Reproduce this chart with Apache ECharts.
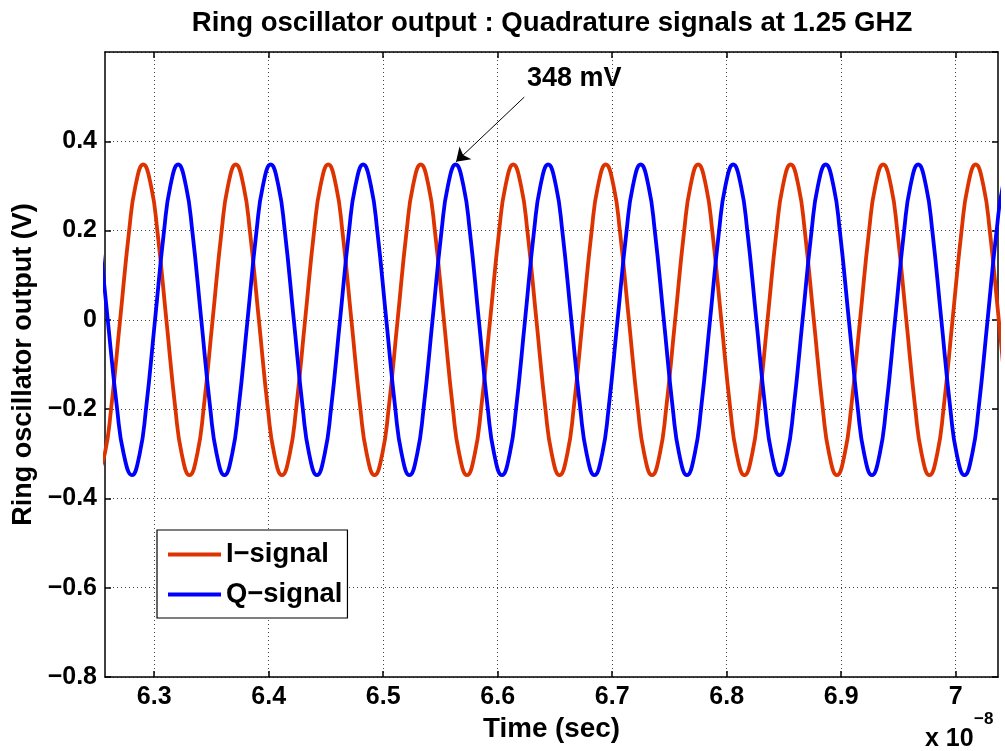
<!DOCTYPE html>
<html>
<head>
<meta charset="utf-8">
<script src="https://cdn.jsdelivr.net/npm/echarts@6/dist/echarts.min.js"></script>
<style>
  html, body { margin: 0; padding: 0; background: #fff; }
  #chart { width: 1005px; height: 751px; }
</style>
</head>
<body>
<div id="chart"></div>
<script>
// ---- data (time in units of 1e-8 s, voltage in V) ----
const xTickValues = [6.3, 6.4, 6.5, 6.6, 6.7, 6.8, 6.9, 7.0];

// I-signal: peaks, troughs and crossings of the 0.3 / 0.2 / 0 / -0.2 / -0.3 levels
const iSignal = [
  [6.2500,-0.348],[6.2568,-0.3],[6.2623,-0.2],[6.2702,0],[6.2781,0.2],[6.2836,0.3],
  [6.2904,0.348],[6.2972,0.3],[6.3027,0.2],[6.3106,0],[6.3185,-0.2],[6.3240,-0.3],[6.3308,-0.348],[6.3376,-0.3],[6.3431,-0.2],[6.3510,0],[6.3589,0.2],[6.3644,0.3],
  [6.3712,0.348],[6.3780,0.3],[6.3835,0.2],[6.3914,0],[6.3993,-0.2],[6.4048,-0.3],[6.4116,-0.348],[6.4184,-0.3],[6.4239,-0.2],[6.4318,0],[6.4397,0.2],[6.4452,0.3],
  [6.4520,0.348],[6.4588,0.3],[6.4643,0.2],[6.4722,0],[6.4801,-0.2],[6.4856,-0.3],[6.4924,-0.348],[6.4992,-0.3],[6.5047,-0.2],[6.5126,0],[6.5205,0.2],[6.5260,0.3],
  [6.5328,0.348],[6.5396,0.3],[6.5451,0.2],[6.5530,0],[6.5609,-0.2],[6.5664,-0.3],[6.5732,-0.348],[6.5800,-0.3],[6.5855,-0.2],[6.5934,0],[6.6013,0.2],[6.6068,0.3],
  [6.6136,0.348],[6.6204,0.3],[6.6259,0.2],[6.6338,0],[6.6417,-0.2],[6.6472,-0.3],[6.6540,-0.348],[6.6608,-0.3],[6.6663,-0.2],[6.6742,0],[6.6821,0.2],[6.6876,0.3],
  [6.6944,0.348],[6.7012,0.3],[6.7067,0.2],[6.7146,0],[6.7225,-0.2],[6.7280,-0.3],[6.7348,-0.348],[6.7416,-0.3],[6.7471,-0.2],[6.7550,0],[6.7629,0.2],[6.7684,0.3],
  [6.7751,0.348],[6.7819,0.3],[6.7874,0.2],[6.7953,0],[6.8032,-0.2],[6.8087,-0.3],[6.8155,-0.348],[6.8223,-0.3],[6.8278,-0.2],[6.8357,0],[6.8436,0.2],[6.8491,0.3],
  [6.8559,0.348],[6.8627,0.3],[6.8682,0.2],[6.8761,0],[6.8840,-0.2],[6.8895,-0.3],[6.8963,-0.348],[6.9031,-0.3],[6.9086,-0.2],[6.9165,0],[6.9244,0.2],[6.9299,0.3],
  [6.9367,0.348],[6.9435,0.3],[6.9490,0.2],[6.9569,0],[6.9648,-0.2],[6.9703,-0.3],[6.9771,-0.348],[6.9839,-0.3],[6.9894,-0.2],[6.9973,0],[7.0052,0.2],[7.0107,0.3],
  [7.0175,0.348],[7.0243,0.3],[7.0298,0.2],[7.0377,0],[7.0456,-0.2],[7.0511,-0.3],[7.0579,-0.348]
];

// Q-signal
const qSignal = [
  [6.2401,0.348],[6.2469,0.3],[6.2515,0.2],[6.2594,0],[6.2676,-0.2],[6.2733,-0.3],[6.2805,-0.348],[6.2873,-0.3],[6.2928,-0.2],[6.3007,0],[6.3086,0.2],[6.3141,0.3],
  [6.3209,0.348],[6.3277,0.3],[6.3332,0.2],[6.3411,0],[6.3490,-0.2],[6.3545,-0.3],[6.3613,-0.348],[6.3681,-0.3],[6.3736,-0.2],[6.3815,0],[6.3894,0.2],[6.3949,0.3],
  [6.4017,0.348],[6.4085,0.3],[6.4140,0.2],[6.4219,0],[6.4298,-0.2],[6.4353,-0.3],[6.4421,-0.348],[6.4489,-0.3],[6.4544,-0.2],[6.4623,0],[6.4702,0.2],[6.4757,0.3],
  [6.4825,0.348],[6.4893,0.3],[6.4948,0.2],[6.5027,0],[6.5106,-0.2],[6.5161,-0.3],[6.5229,-0.348],[6.5297,-0.3],[6.5352,-0.2],[6.5431,0],[6.5510,0.2],[6.5565,0.3],
  [6.5633,0.348],[6.5701,0.3],[6.5756,0.2],[6.5835,0],[6.5914,-0.2],[6.5969,-0.3],[6.6037,-0.348],[6.6105,-0.3],[6.6160,-0.2],[6.6239,0],[6.6318,0.2],[6.6373,0.3],
  [6.6441,0.348],[6.6509,0.3],[6.6564,0.2],[6.6643,0],[6.6722,-0.2],[6.6777,-0.3],[6.6845,-0.348],[6.6913,-0.3],[6.6968,-0.2],[6.7047,0],[6.7126,0.2],[6.7181,0.3],
  [6.7249,0.348],[6.7317,0.3],[6.7372,0.2],[6.7451,0],[6.7530,-0.2],[6.7585,-0.3],[6.7653,-0.348],[6.7721,-0.3],[6.7776,-0.2],[6.7855,0],[6.7934,0.2],[6.7989,0.3],
  [6.8057,0.348],[6.8125,0.3],[6.8180,0.2],[6.8259,0],[6.8338,-0.2],[6.8393,-0.3],[6.8461,-0.348],[6.8529,-0.3],[6.8584,-0.2],[6.8663,0],[6.8742,0.2],[6.8797,0.3],
  [6.8865,0.348],[6.8933,0.3],[6.8988,0.2],[6.9067,0],[6.9146,-0.2],[6.9201,-0.3],[6.9269,-0.348],[6.9337,-0.3],[6.9392,-0.2],[6.9471,0],[6.9550,0.2],[6.9605,0.3],
  [6.9673,0.348],[6.9741,0.3],[6.9796,0.2],[6.9875,0],[6.9954,-0.2],[7.0009,-0.3],[7.0077,-0.348],[7.0145,-0.3],[7.0200,-0.2],[7.0279,0],[7.0358,0.2],[7.0413,0.3],
  [7.0481,0.348],[7.0549,0.3]
];

// annotation: peak marker of the Q-signal
const annotationText = '348 mV';
const arrowFrom = [6.6232, 0.499];
const arrowTo = [6.5636, 0.354];
const annotationAt = [6.6668, 0.541];

// ---- chart ----
const FONT = "'Liberation Sans', Arial, Helvetica, sans-serif";
const X_MIN = 6.257, X_MAX = 7.037, Y_MIN = -0.8, Y_MAX = 0.6;
const RED = '#DD3300', BLUE = '#0000FF';
const fmtX = v => String(parseFloat(v.toFixed(2)));
const fmtY = v => {
  const r = Math.round(v * 10) / 10;
  if (r === 0) return '0';
  return (r < 0 ? '\u2212' : '') + Math.abs(r).toFixed(1);
};
const axisLineStyle = { color: '#000', width: 1.5 };
const gridLineStyle = { color: '#444', width: 1, type: [1, 3] };
const labelStyle = { fontFamily: FONT, fontSize: 25, fontWeight: 'bold', color: '#000' };

const chart = echarts.init(document.getElementById('chart'), null, { renderer: 'canvas' });
chart.setOption({
  animation: false,
  backgroundColor: '#fff',
  title: {
    text: 'Ring oscillator output : Quadrature signals at 1.25 GHZ',
    left: 552, top: 9, padding: 0, textAlign: 'center',
    textStyle: { fontFamily: FONT, fontSize: 27.6, fontWeight: 'bold', color: '#000' }
  },
  grid: { left: 105, right: 7, top: 52, bottom: 74, containLabel: false },
  legend: {
    orient: 'vertical', left: 157, top: 530,
    data: [{ name: 'I\u2212signal', icon: 'rect' }, { name: 'Q\u2212signal', icon: 'rect' }],
    itemWidth: 53, itemHeight: 3.8, itemGap: 13,
    padding: [11, 5, 10, 11],
    borderColor: '#000', borderWidth: 1.2, backgroundColor: '#fff',
    textStyle: { fontFamily: FONT, fontSize: 27.4, fontWeight: 'bold', color: '#000' }
  },
  xAxis: [{
    type: 'value', position: 'bottom', min: X_MIN, max: X_MAX,
    name: 'Time (sec)', nameLocation: 'middle', nameGap: 33,
    nameTextStyle: { fontFamily: FONT, fontSize: 27.8, fontWeight: 'bold', color: '#000' },
    axisLine: { show: true, onZero: false, lineStyle: axisLineStyle },
    axisTick: { show: true, inside: true, length: 6, customValues: xTickValues, lineStyle: axisLineStyle },
    axisLabel: Object.assign({ customValues: xTickValues, formatter: fmtX, margin: 8 }, labelStyle),
    splitLine: { show: true, lineStyle: gridLineStyle }
  }, {
    type: 'value', position: 'top', min: X_MIN, max: X_MAX,
    axisLine: { show: true, onZero: false, lineStyle: axisLineStyle },
    axisTick: { show: true, inside: true, length: 6, customValues: xTickValues, lineStyle: axisLineStyle },
    axisLabel: { show: false },
    splitLine: { show: false }
  }],
  yAxis: [{
    type: 'value', position: 'left', min: Y_MIN, max: Y_MAX, interval: 0.2,
    name: 'Ring oscillator output (V)', nameLocation: 'middle', nameGap: 58,
    nameTextStyle: { fontFamily: FONT, fontSize: 27, fontWeight: 'bold', color: '#000' },
    axisLine: { show: true, onZero: false, lineStyle: axisLineStyle },
    axisTick: { show: true, inside: true, length: 6, lineStyle: axisLineStyle },
    axisLabel: Object.assign({ formatter: fmtY, margin: 8, showMaxLabel: false }, labelStyle),
    splitLine: { show: true, lineStyle: gridLineStyle }
  }, {
    type: 'value', position: 'right', min: Y_MIN, max: Y_MAX, interval: 0.2,
    axisLine: { show: true, onZero: false, lineStyle: axisLineStyle },
    axisTick: { show: true, inside: true, length: 6, lineStyle: axisLineStyle },
    axisLabel: { show: false },
    splitLine: { show: false }
  }],
  series: [{
    name: 'I\u2212signal', type: 'line', xAxisIndex: 0, yAxisIndex: 0,
    data: iSignal, smooth: true, symbol: 'none', clip: true,
    lineStyle: { color: RED, width: 3.8 }, itemStyle: { color: RED }
  }, {
    name: 'Q\u2212signal', type: 'line', xAxisIndex: 0, yAxisIndex: 0,
    data: qSignal, smooth: true, symbol: 'none', clip: true,
    lineStyle: { color: BLUE, width: 3.8 }, itemStyle: { color: BLUE },
    markLine: {
      silent: true, animation: false,
      symbol: ['none', 'arrow'], symbolSize: 13,
      lineStyle: { color: '#000', width: 1, type: 'solid' },
      label: { show: false },
      data: [[{ coord: arrowFrom, symbol: 'none' }, { coord: arrowTo, symbol: 'arrow', symbolSize: 13 }]]
    },
    markPoint: {
      silent: true, animation: false,
      symbol: 'circle', symbolSize: 1, itemStyle: { color: 'rgba(0,0,0,0)' },
      label: { show: true, position: 'inside', formatter: annotationText,
               fontFamily: FONT, fontSize: 27, fontWeight: 'bold', color: '#000' },
      data: [{ coord: annotationAt }]
    }
  }],
  graphic: [{
    type: 'text', left: 925, top: 727,
    style: { text: 'x 10', fontFamily: FONT, fontSize: 25, fontWeight: 'bold', fill: '#000' }
  }, {
    type: 'text', left: 974, top: 711,
    style: { text: '\u22128', fontFamily: FONT, fontSize: 17, fontWeight: 'bold', fill: '#000' }
  }]
});
</script>
</body>
</html>
